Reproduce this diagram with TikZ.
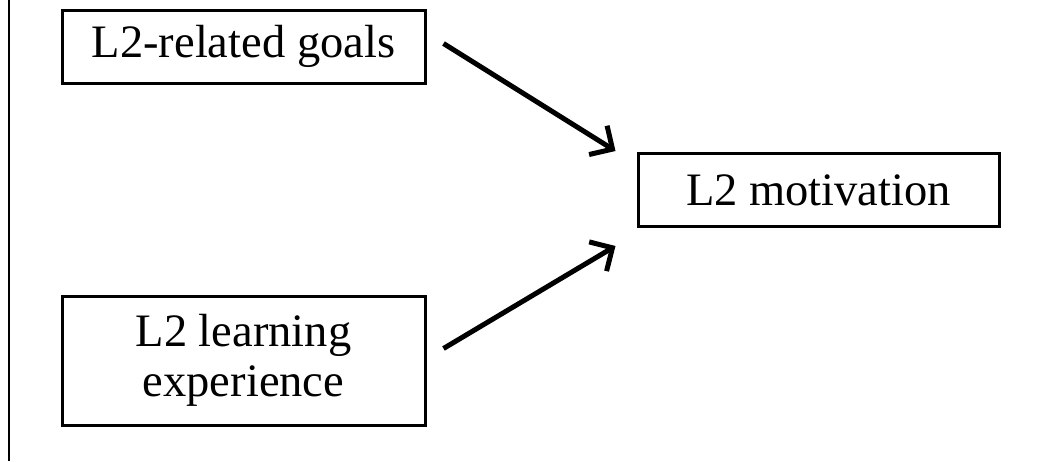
\documentclass[tikz,border=0pt]{standalone}
\usepackage{fontspec}
\setmainfont{Liberation Serif}
\usetikzlibrary{arrows.meta}
\begin{document}
\begin{tikzpicture}[x=1pt,y=-1pt,
  box/.style={draw, line width=3pt, inner sep=0pt, align=center,
    font=\fontsize{46.5}{50}\selectfont, minimum width=363pt, minimum height=73pt},
  arr/.style={line width=5pt, -{Straight Barb[length=17pt,width=34pt]}}]
\useasboundingbox (0,0) rectangle (1037,461);
\fill[white] (0,0) rectangle (1037,461);
\draw[line width=1.5pt] (9,0) -- (9,461);
\node[box] (b1) at (243.5,46.5) {L2-related goals};
\node[box, minimum height=129pt] (b2) at (243.5,360.5) {L2 learning\\experience};
\node[box, minimum width=361pt] (b3) at (818.5,190) {L2 motivation};
\draw[arr] ([shift={(17,35)}]b1.north east) -- ([shift={(-21,-1)}]b3.north west);
\draw[arr] ([shift={(17,54)}]b2.north east) -- ([shift={(-21,18)}]b3.south west);
\end{tikzpicture}
\end{document}
